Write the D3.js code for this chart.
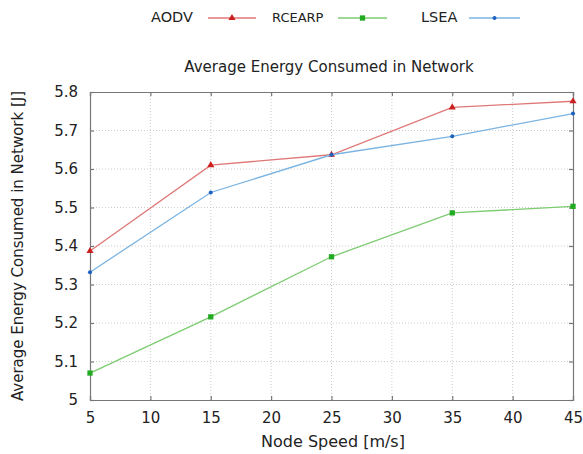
<!DOCTYPE html>
<html>
<head>
<meta charset="utf-8">
<script src="https://cdn.jsdelivr.net/npm/d3@7"></script>
<style>
  body { margin: 0; background: #fff; }
  text { font-family: "DejaVu Sans", sans-serif; fill: #222; }
</style>
</head>
<body>
<div id="chart"></div>
<script>
const speeds = [5, 15, 25, 35, 45];
const aodv = [5.387, 5.61, 5.637, 5.76, 5.776];
const rcearp = [5.07, 5.216, 5.372, 5.486, 5.503];
const lsea = [5.332, 5.539, 5.637, 5.685, 5.744];
const xTicks = [5, 10, 15, 20, 25, 30, 35, 40, 45];
const yTicks = [5, 5.1, 5.2, 5.3, 5.4, 5.5, 5.6, 5.7, 5.8];

const width = 583, height = 454;
const margin = { top: 92, right: 10, bottom: 54, left: 90 };

const svg = d3.select("#chart").append("svg")
  .attr("width", width)
  .attr("height", height);

const x = d3.scaleLinear().domain([5, 45]).range([margin.left, width - margin.right]);
const y = d3.scaleLinear().domain([5, 5.8]).range([height - margin.bottom, margin.top]);

// grid
svg.append("g").selectAll("line.vx")
  .data(xTicks.slice(1, -1))
  .enter().append("line")
  .attr("x1", d => x(d)).attr("x2", d => x(d))
  .attr("y1", y(5)).attr("y2", y(5.8))
  .attr("stroke", "#ccc").attr("stroke-dasharray", "1,2");
svg.append("g").selectAll("line.hy")
  .data(yTicks.slice(1, -1))
  .enter().append("line")
  .attr("x1", x(5)).attr("x2", x(45))
  .attr("y1", d => y(d)).attr("y2", d => y(d))
  .attr("stroke", "#ccc").attr("stroke-dasharray", "1,2");

// axes
const axisColor = "#777";
const axBottom = svg.append("g")
  .attr("transform", `translate(0,${y(5)})`)
  .call(d3.axisBottom(x).tickValues(xTicks).tickSize(-4).tickPadding(12).tickFormat(d3.format("d")));
const axLeft = svg.append("g")
  .attr("transform", `translate(${x(5)},0)`)
  .call(d3.axisLeft(y).tickValues(yTicks).tickSize(-4).tickPadding(12).tickFormat(d => d === 5 ? "5" : d3.format(".1f")(d)));
const axTop = svg.append("g")
  .attr("transform", `translate(0,${y(5.8)})`)
  .call(d3.axisTop(x).tickValues(xTicks).tickSize(-4).tickFormat(""));
const axRight = svg.append("g")
  .attr("transform", `translate(${x(45)},0)`)
  .call(d3.axisRight(y).tickValues(yTicks).tickSize(-4).tickFormat(""));
[axBottom, axLeft, axTop, axRight].forEach(g => {
  g.selectAll("path, line").attr("stroke", axisColor).attr("stroke-width", 1.2);
  g.selectAll("text").style("font-size", "15px").attr("fill", "#222");
});

// series
const series = [
  { name: "AODV", values: aodv, line: "#e07878", mark: "#cc1f1f", shape: d3.symbolTriangle, size: 22 },
  { name: "RCEARP", values: rcearp, line: "#7ccc70", mark: "#22aa22", shape: d3.symbolSquare, size: 28 },
  { name: "LSEA", values: lsea, line: "#7ab4e2", mark: "#1d62c0", shape: d3.symbolCircle, size: 13 }
];

const line = d3.line().x((d, i) => x(speeds[i])).y(d => y(d));

series.forEach(s => {
  svg.append("path")
    .datum(s.values)
    .attr("d", line)
    .attr("fill", "none")
    .attr("stroke", s.line)
    .attr("stroke-width", 1.3);
  svg.append("g").selectAll("path")
    .data(s.values)
    .enter().append("path")
    .attr("transform", (d, i) => `translate(${x(speeds[i])},${y(d)})`)
    .attr("d", d3.symbol().type(s.shape).size(s.size))
    .attr("fill", s.mark);
});

// title + labels
svg.append("text")
  .attr("x", 329).attr("y", 72)
  .attr("text-anchor", "middle")
  .style("font-size", "15px")
  .text("Average Energy Consumed in Network");
svg.append("text")
  .attr("x", 333).attr("y", 447)
  .attr("text-anchor", "middle")
  .style("font-size", "16px")
  .text("Node Speed [m/s]");
svg.append("text")
  .attr("transform", `translate(23,${(y(5) + y(5.8)) / 2}) rotate(-90)`)
  .attr("text-anchor", "middle")
  .style("font-size", "15px")
  .text("Average Energy Consumed in Network [J]");

// legend
const legendItems = [
  { s: series[0], tx: 151, lx: 208, lw: 48, fs: 14.5 },
  { s: series[1], tx: 272, lx: 338, lw: 49, fs: 13 },
  { s: series[2], tx: 421, lx: 469, lw: 51, fs: 14.5 }
];
const legend = svg.append("g");
legendItems.forEach(item => {
  legend.append("text")
    .attr("x", item.tx).attr("y", 22)
    .style("font-size", item.fs + "px")
    .text(item.s.name);
  legend.append("line")
    .attr("x1", item.lx).attr("x2", item.lx + item.lw)
    .attr("y1", 18).attr("y2", 18)
    .attr("stroke", item.s.line).attr("stroke-width", 1.3);
  legend.append("path")
    .attr("transform", `translate(${item.lx + item.lw / 2},18)`)
    .attr("d", d3.symbol().type(item.s.shape).size(item.s.size))
    .attr("fill", item.s.mark);
});
</script>
</body>
</html>
